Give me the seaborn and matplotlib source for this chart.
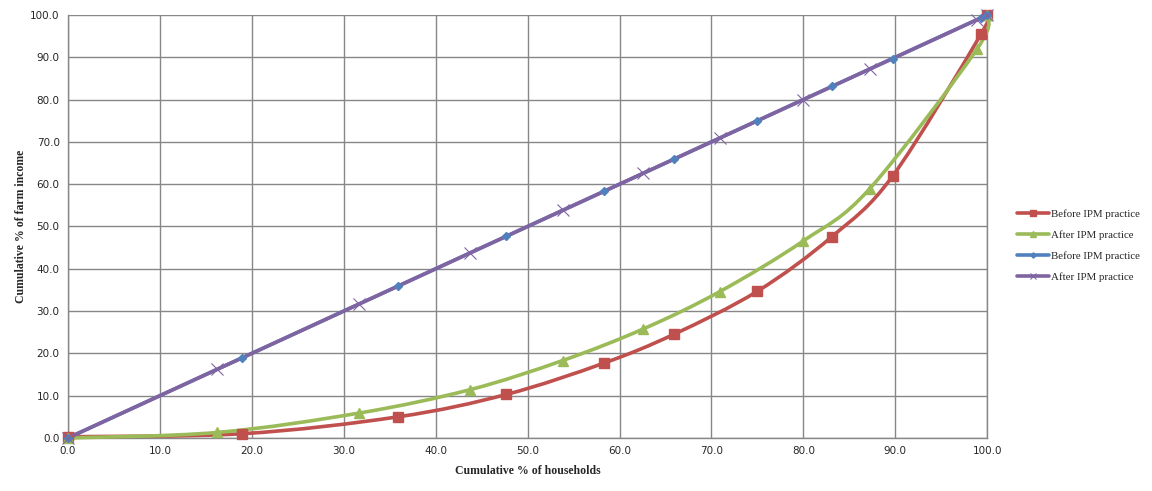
import numpy as np
import pandas as pd
import matplotlib
matplotlib.use("Agg")
import matplotlib.pyplot as plt
from matplotlib.path import Path
from matplotlib.patches import PathPatch
from matplotlib.lines import Line2D
import seaborn as sns

# Lorenz curve data
before_x = [0.0, 18.9, 35.9, 47.7, 58.3, 65.9, 75.0, 83.1, 89.7, 99.3, 100.0]
before_y = [0.3, 1.0, 5.0, 10.3, 17.7, 24.5, 34.7, 47.6, 61.9, 95.4, 100.0]
after_x = [0.0, 16.2, 31.7, 43.7, 53.8, 62.6, 70.9, 80.0, 87.2, 98.9, 100.0]
after_y = [0.0, 1.3, 5.9, 11.4, 18.3, 25.8, 34.6, 46.6, 58.9, 92.0, 100.0]
# equality lines use the same household shares on both axes
before_eq_y = before_x
after_eq_y = after_x

labels = ["Before IPM practice", "After IPM practice", "Before IPM practice", "After IPM practice"]
colors = ["#C0504D", "#9BBB59", "#4F81BD", "#8064A2"]
ticks = [0, 10, 20, 30, 40, 50, 60, 70, 80, 90, 100]


def smooth_path(xs, ys):
    # Excel-style smoothed line: cubic bezier through each point
    pts = np.column_stack([xs, ys])
    n = len(pts)
    verts = [pts[0]]
    codes = [Path.MOVETO]
    for i in range(n - 1):
        p0 = pts[max(i - 1, 0)]
        p1 = pts[i]
        p2 = pts[i + 1]
        p3 = pts[min(i + 2, n - 1)]
        c1 = p1 + (p2 - p0) / 6.0
        c2 = p2 - (p3 - p1) / 6.0
        verts += [c1, c2, p2]
        codes += [Path.CURVE4] * 3
    return Path(verts, codes)


series = [
    (before_x, before_y, "s", 6.5, 1.0),
    (after_x, after_y, "^", 6.5, 1.0),
    (before_x, before_eq_y, "D", 4.5, 1.0),
    (after_x, after_eq_y, "x", 8, 0.8),
]

sns.set_style("white")
plt.rcParams["font.family"] = ["DejaVu Sans"]

fig = plt.figure(figsize=(11.52, 4.91), dpi=100)
ax = fig.add_axes([0.059, 0.108, 0.798, 0.8615])

for i, (xs, ys, mk, ms, mew) in enumerate(series):
    patch = PathPatch(smooth_path(xs, ys), facecolor="none", edgecolor=colors[i],
                      lw=2.6, zorder=3 + i * 0.1, clip_on=False)
    ax.add_patch(patch)

for i, (xs, ys, mk, ms, mew) in enumerate(series):
    df = pd.DataFrame({"x": xs, "y": ys})
    sns.lineplot(data=df, x="x", y="y", ax=ax, color=colors[i], linestyle="",
                 marker=mk, markersize=ms, markeredgewidth=mew,
                 markeredgecolor=colors[i], zorder=5, clip_on=False)

ax.set_xlim(0, 100)
ax.set_ylim(0, 100)
ax.set_xticks(ticks)
ax.set_yticks(ticks)
ax.set_xticklabels([f"{t:.1f}" for t in ticks], fontsize=7.5)
ax.set_yticklabels([f"{t:.1f}" for t in ticks], fontsize=7.5)
ax.grid(True, color="#878787", lw=1.0, zorder=0)
ax.set_axisbelow(True)
ax.spines["top"].set_visible(False)
ax.spines["right"].set_visible(True)
for side in ["left", "bottom", "right"]:
    ax.spines[side].set_color("#878787")
    ax.spines[side].set_linewidth(1.0)
ax.tick_params(axis="both", length=4, color="#878787", pad=2)

ax.set_xlabel("Cumulative % of households", fontsize=8.5, fontweight="bold",
              family="Liberation Serif", labelpad=6)
ax.set_ylabel("Cumulative % of farm income", fontsize=8.5, fontweight="bold",
              family="Liberation Serif", labelpad=2)

handles = []
for i, (xs, ys, mk, ms, mew) in enumerate(series):
    handles.append(Line2D([0], [0], color=colors[i], lw=2.6, marker=mk,
                          markersize=ms * 0.6, markeredgewidth=mew))
fig.legend(handles, labels, loc="center left", bbox_to_anchor=(0.874, 0.5),
           frameon=False, prop={"family": "Liberation Serif", "size": 7.8},
           handlelength=3.0, handletextpad=0.15, labelspacing=1.05)

fig.savefig("out.png", dpi=100)
